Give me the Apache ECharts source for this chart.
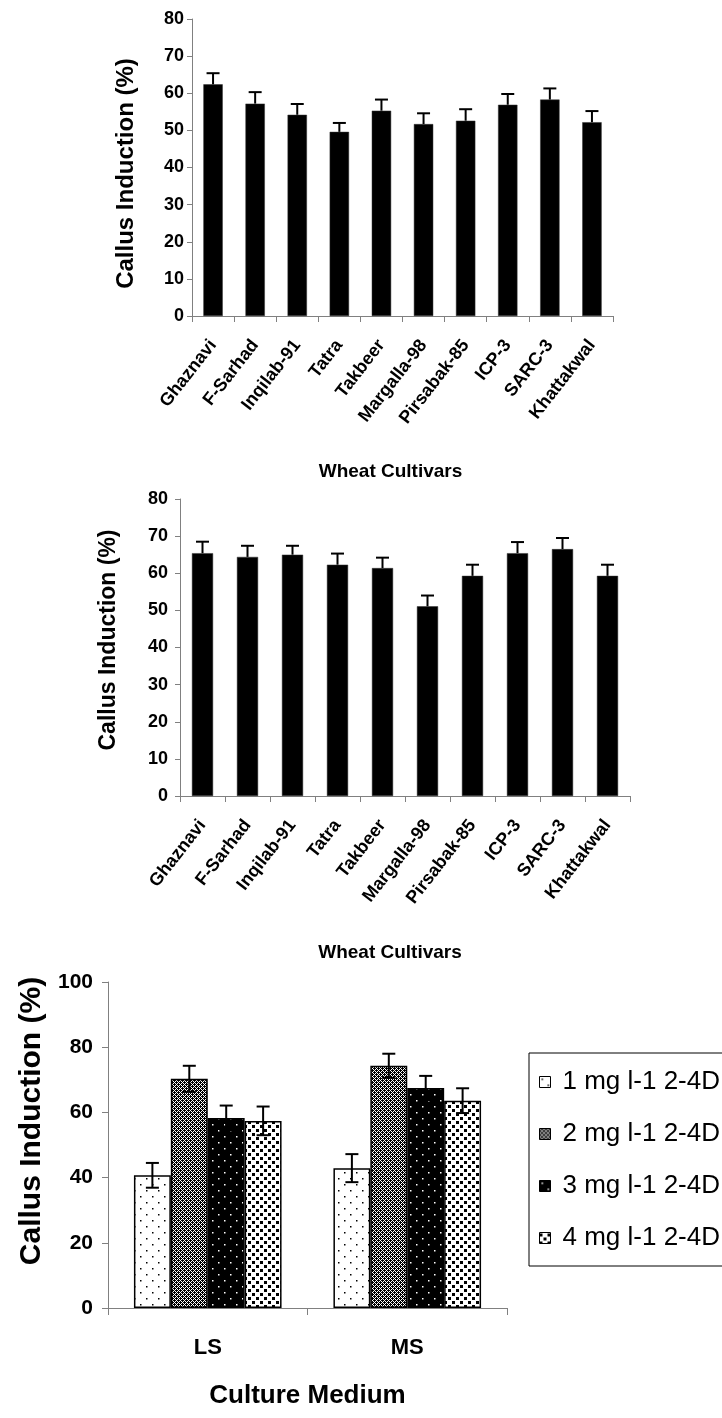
<!DOCTYPE html>
<html>
<head>
<meta charset="utf-8">
<script src="https://cdn.jsdelivr.net/npm/echarts@6/dist/echarts.min.js"></script>
<style>
html,body{margin:0;padding:0;background:#fff;}
#c{width:722px;height:1418px;}
</style>
</head>
<body>
<div id="c"></div>
<script>
// ---------- data ----------
const cultivars = ['Ghaznavi','F-Sarhad','Inqilab-91','Tatra','Takbeer','Margalla-98','Pirsabak-85','ICP-3','SARC-3','Khattakwal'];
const inductionA = [62.4, 57.2, 54.2, 49.6, 55.3, 51.7, 52.6, 56.9, 58.3, 52.2];
const errorA     = [3.0, 3.1, 2.9, 2.4, 3.0, 2.9, 3.1, 2.9, 3.0, 3.0];
const inductionB = [65.4, 64.4, 65.0, 62.3, 61.4, 51.1, 59.3, 65.4, 66.5, 59.3];
const errorB     = [3.1, 3.0, 2.4, 3.0, 2.8, 2.9, 3.0, 3.0, 3.0, 3.0];

const media = ['LS', 'MS'];
const doseNames = ['1 mg l-1 2-4D', '2 mg l-1 2-4D', '3 mg l-1 2-4D', '4 mg l-1 2-4D'];
const dose1 = [40.7, 42.9];
const dose2 = [70.3, 74.3];
const dose3 = [58.3, 67.5];
const dose4 = [57.4, 63.6];
const doseErr1 = [3.8, 4.3];
const doseErr2 = [4.0, 3.7];
const doseErr3 = [3.8, 3.7];
const doseErr4 = [4.4, 3.8];

const yMaxTop = 80, yStepTop = 10;
const yMaxBottom = 100, yStepBottom = 20;

// ---------- styling helpers ----------
const FONT = 'Liberation Sans, Arial, Helvetica, sans-serif';
const AX = '#808080';

function pattern(w, h, bg, fg, cells) {
  const cv = document.createElement('canvas');
  cv.width = w; cv.height = h;
  const g = cv.getContext('2d');
  g.fillStyle = bg; g.fillRect(0, 0, w, h);
  g.fillStyle = fg;
  cells.forEach(c => g.fillRect(c[0], c[1], c[2], c[3]));
  return { image: cv, repeat: 'repeat' };
}
const patterns = [
  pattern(12, 12, '#fff', '#000', [[2,2,1.5,1.5],[8,8,1.5,1.5]]),
  pattern(4, 4, '#000', '#fff', [[0,0,1,1],[1,1,1,1],[2,2,1,1],[3,3,1,1],[1,3,1,1],[3,1,1,1]]),
  pattern(12, 12, '#000', '#fff', [[2,2,1.5,1.5],[8,8,1.5,1.5]]),
  pattern(8, 8, '#fff', '#000', [[0,1,3,3],[4,5,3,3]])
];

function tripleData(vals, errs) {
  return vals.map((v, i) => [i, v, errs[i]]);
}

function errUp(params, api) {
  const x = api.value(0), v = api.value(1), e = api.value(2);
  const p0 = api.coord([x, v]);
  const p1 = api.coord([x, v + e]);
  const cap = 6.5;
  return { type: 'group', children: [
    { type: 'line', shape: { x1: p0[0], y1: p0[1], x2: p1[0], y2: p1[1] }, style: { stroke: '#000', lineWidth: 2 } },
    { type: 'line', shape: { x1: p1[0] - cap, y1: p1[1], x2: p1[0] + cap, y2: p1[1] }, style: { stroke: '#000', lineWidth: 2 } }
  ]};
}

const groupGap = 0.26;
function errBoth(slot) {
  return function (params, api) {
    const x = api.value(0), v = api.value(1), e = api.value(2);
    const band = api.size([1, 0])[0];
    const barW = band * (1 - groupGap) / 4;
    const off = (slot - 1.5) * barW;
    const pt = api.coord([x, v + e]);
    const pb = api.coord([x, v - e]);
    const cx = pt[0] + off;
    const cap = 6.5;
    return { type: 'group', children: [
      { type: 'line', shape: { x1: cx, y1: pt[1], x2: cx, y2: pb[1] }, style: { stroke: '#000', lineWidth: 2 } },
      { type: 'line', shape: { x1: cx - cap, y1: pt[1], x2: cx + cap, y2: pt[1] }, style: { stroke: '#000', lineWidth: 2 } },
      { type: 'line', shape: { x1: cx - cap, y1: pb[1], x2: cx + cap, y2: pb[1] }, style: { stroke: '#000', lineWidth: 2 } }
    ]};
  };
}

function catAxis(gi, data, opts) {
  return Object.assign({
    type: 'category', gridIndex: gi, data: data,
    axisLine: { lineStyle: { color: AX, width: 1 } },
    axisTick: { show: true, length: 6, lineStyle: { color: AX } },
    splitLine: { show: false },
    nameLocation: 'middle'
  }, opts);
}
function valAxis(gi, max, step, opts) {
  return Object.assign({
    type: 'value', gridIndex: gi, min: 0, max: max, interval: step,
    axisLine: { show: true, lineStyle: { color: AX, width: 1 } },
    axisTick: { show: true, length: 5, lineStyle: { color: AX } },
    splitLine: { show: false },
    nameLocation: 'middle'
  }, opts);
}

const doseData = [dose1, dose2, dose3, dose4];
const doseErrs = [doseErr1, doseErr2, doseErr3, doseErr4];

const catLabel = { interval: 0, rotate: 52, margin: 26, fontSize: 18, fontWeight: 'bold', color: '#000', fontFamily: FONT };

const option = {
  animation: false,
  backgroundColor: '#fff',
  textStyle: { fontFamily: FONT },
  grid: [
    { left: 192, right: 109, top: 19, bottom: 1102 },
    { left: 180, right: 92, top: 499, bottom: 622 },
    { left: 108, right: 215, top: 982, bottom: 110 }
  ],
  xAxis: [
    catAxis(0, cultivars, {
      axisLabel: catLabel,
      name: 'Wheat Cultivars', nameGap: 146,
      nameTextStyle: { fontSize: 19, fontWeight: 'bold', color: '#000', fontFamily: FONT, padding: [0, 24, 0, 0] }
    }),
    catAxis(1, cultivars, {
      axisLabel: catLabel,
      name: 'Wheat Cultivars', nameGap: 147,
      nameTextStyle: { fontSize: 19, fontWeight: 'bold', color: '#000', fontFamily: FONT, padding: [0, 30, 0, 0] }
    }),
    catAxis(2, media, {
      axisTick: { show: true, length: 7, lineStyle: { color: AX } },
      axisLabel: { interval: 0, margin: 29, fontSize: 22, fontWeight: 'bold', color: '#000', fontFamily: FONT },
      name: 'Culture Medium', nameGap: 75,
      nameTextStyle: { fontSize: 26, fontWeight: 'bold', color: '#000', fontFamily: FONT }
    })
  ],
  yAxis: [
    valAxis(0, yMaxTop, yStepTop, {
      axisLabel: { margin: 8, fontSize: 18, fontWeight: 'bold', color: '#000', fontFamily: FONT },
      name: 'Callus Induction (%)', nameGap: 54,
      nameTextStyle: { fontSize: 24, fontWeight: 'bold', color: '#000', fontFamily: FONT, padding: [0, 12, 0, 0] }
    }),
    valAxis(1, yMaxTop, yStepTop, {
      axisLabel: { margin: 12, fontSize: 18, fontWeight: 'bold', color: '#000', fontFamily: FONT },
      name: 'Callus Induction (%)', nameGap: 60,
      nameTextStyle: { fontSize: 23, fontWeight: 'bold', color: '#000', fontFamily: FONT, padding: [0, 0, 0, 15] }
    }),
    valAxis(2, yMaxBottom, yStepBottom, {
      axisTick: { show: true, length: 6, lineStyle: { color: AX } },
      axisLabel: { margin: 15, fontSize: 21, fontWeight: 'bold', color: '#000', fontFamily: FONT },
      name: 'Callus Induction (%)', nameGap: 55,
      nameTextStyle: { fontSize: 30, fontWeight: 'bold', color: '#000', fontFamily: FONT, padding: [0, 0, 0, 48] }
    })
  ],
  legend: {
    orient: 'vertical', left: 529, top: 1053,
    data: doseNames,
    icon: 'rect', itemWidth: 11, itemHeight: 11, itemGap: 26,
    padding: [16, 20, 15, 10],
    borderColor: '#000', borderWidth: 1,
    itemStyle: { borderColor: '#000', borderWidth: 1 },
    textStyle: { fontSize: 26, color: '#000', fontFamily: FONT, padding: [0, 0, 0, 7] },
    selectedMode: false
  },
  series: [
    { type: 'bar', xAxisIndex: 0, yAxisIndex: 0, data: inductionA, barCategoryGap: '54%',
      itemStyle: { color: '#000', borderColor: '#333', borderWidth: 0.5 } },
    { type: 'custom', xAxisIndex: 0, yAxisIndex: 0, renderItem: errUp, data: tripleData(inductionA, errorA), z: 5 },
    { type: 'bar', xAxisIndex: 1, yAxisIndex: 1, data: inductionB, barCategoryGap: '53%',
      itemStyle: { color: '#000', borderColor: '#333', borderWidth: 0.5 } },
    { type: 'custom', xAxisIndex: 1, yAxisIndex: 1, renderItem: errUp, data: tripleData(inductionB, errorB), z: 5 }
  ].concat(doseNames.map((n, k) => ({
    type: 'bar', name: n, xAxisIndex: 2, yAxisIndex: 2, data: doseData[k],
    barGap: '0%', barCategoryGap: (groupGap * 100) + '%',
    itemStyle: { color: patterns[k], borderColor: '#000', borderWidth: 1.5 }
  }))).concat(doseNames.map((n, k) => ({
    type: 'custom', xAxisIndex: 2, yAxisIndex: 2, renderItem: errBoth(k),
    data: tripleData(doseData[k], doseErrs[k]), z: 5
  })))
};

const chart = echarts.init(document.getElementById('c'), null, { renderer: 'canvas' });
chart.setOption(option);
</script>
</body>
</html>
